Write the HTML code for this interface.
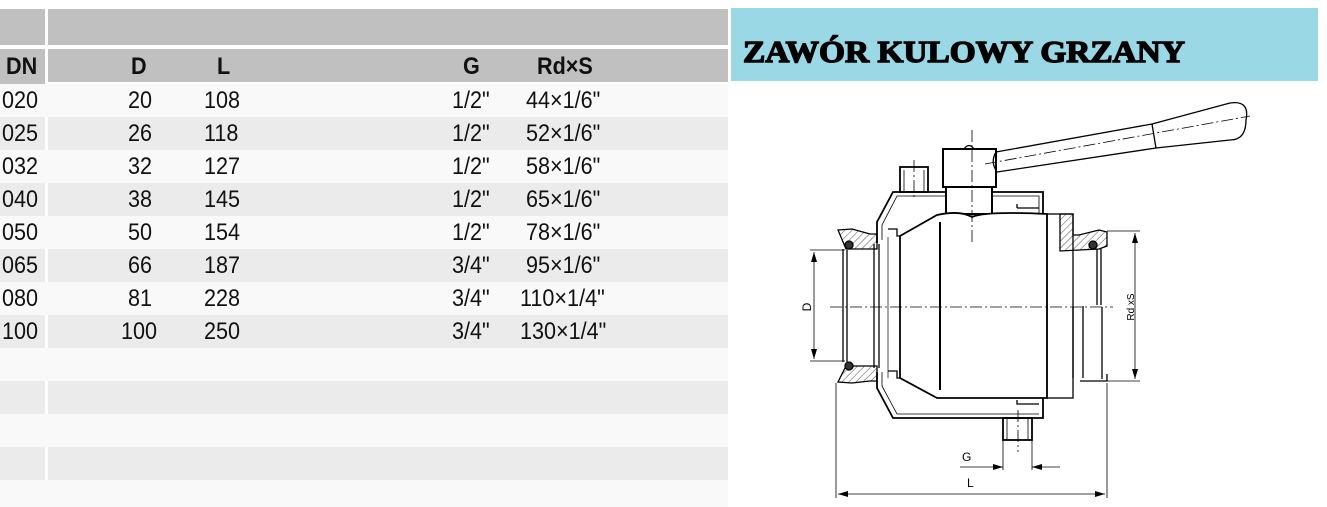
<!DOCTYPE html>
<html><head><meta charset="utf-8"><style>
body{margin:0;width:1327px;height:507px;background:#fff;overflow:hidden;position:relative;font-family:"Liberation Sans",sans-serif}
.r{position:absolute;left:0;width:728px;height:33px}
.l{background:#f9f9f9}.g{background:#ebebeb}
.sep{position:absolute;left:45px;width:3px;background:#fff}
.t{position:absolute;font-size:24px;color:#111;line-height:24px;transform:scaleX(0.9);transform-origin:left}
.h{font-weight:bold}
</style></head><body>
<div style="position:absolute;left:0;top:9px;width:45px;height:36px;background:#c0c0c0"></div>
<div style="position:absolute;left:48px;top:9px;width:680px;height:36px;background:#c0c0c0"></div>
<div style="position:absolute;left:0;top:49px;width:45px;height:35px;background:#c0c0c0"></div>
<div style="position:absolute;left:48px;top:49px;width:680px;height:33px;background:#c0c0c0"></div>
<div class="r l" style="top:84px"></div>
<div class="r g" style="top:117px"></div>
<div class="r l" style="top:150px"></div>
<div class="r g" style="top:183px"></div>
<div class="r l" style="top:216px"></div>
<div class="r g" style="top:249px"></div>
<div class="r l" style="top:282px"></div>
<div class="r g" style="top:315px"></div>
<div class="r l" style="top:348px"></div>
<div class="r g" style="top:381px"></div>
<div class="r l" style="top:414px"></div>
<div class="r g" style="top:447px"></div>
<div class="r l" style="top:480px;height:27px"></div>
<div class="sep" style="top:117px;height:33px"></div>
<div class="sep" style="top:183px;height:33px"></div>
<div class="sep" style="top:249px;height:33px"></div>
<div class="sep" style="top:315px;height:33px"></div>
<div class="sep" style="top:381px;height:33px"></div>
<div class="sep" style="top:447px;height:33px"></div>

<div class="t h" style="left:6px;top:55px">DN</div>
<div class="t h" style="left:131px;top:55px">D</div>
<div class="t h" style="left:217px;top:55px">L</div>
<div class="t h" style="left:463px;top:55px">G</div>
<div class="t h" style="left:537px;top:55px">Rd×S</div>

<div class="t" style="left:2px;top:89px">020</div><div class="t" style="left:128px;top:89px">20</div><div class="t" style="left:204px;top:89px">108</div><div class="t" style="left:452px;top:89px">1/2"</div><div class="t" style="left:526px;top:89px">44×1/6"</div>
<div class="t" style="left:2px;top:122px">025</div><div class="t" style="left:128px;top:122px">26</div><div class="t" style="left:204px;top:122px">118</div><div class="t" style="left:452px;top:122px">1/2"</div><div class="t" style="left:526px;top:122px">52×1/6"</div>
<div class="t" style="left:2px;top:155px">032</div><div class="t" style="left:128px;top:155px">32</div><div class="t" style="left:204px;top:155px">127</div><div class="t" style="left:452px;top:155px">1/2"</div><div class="t" style="left:526px;top:155px">58×1/6"</div>
<div class="t" style="left:2px;top:188px">040</div><div class="t" style="left:128px;top:188px">38</div><div class="t" style="left:204px;top:188px">145</div><div class="t" style="left:452px;top:188px">1/2"</div><div class="t" style="left:526px;top:188px">65×1/6"</div>
<div class="t" style="left:2px;top:221px">050</div><div class="t" style="left:128px;top:221px">50</div><div class="t" style="left:204px;top:221px">154</div><div class="t" style="left:452px;top:221px">1/2"</div><div class="t" style="left:526px;top:221px">78×1/6"</div>
<div class="t" style="left:2px;top:254px">065</div><div class="t" style="left:128px;top:254px">66</div><div class="t" style="left:204px;top:254px">187</div><div class="t" style="left:452px;top:254px">3/4"</div><div class="t" style="left:526px;top:254px">95×1/6"</div>
<div class="t" style="left:2px;top:287px">080</div><div class="t" style="left:128px;top:287px">81</div><div class="t" style="left:204px;top:287px">228</div><div class="t" style="left:452px;top:287px">3/4"</div><div class="t" style="left:520px;top:287px">110×1/4"</div>
<div class="t" style="left:2px;top:320px">100</div><div class="t" style="left:121px;top:320px">100</div><div class="t" style="left:204px;top:320px">250</div><div class="t" style="left:452px;top:320px">3/4"</div><div class="t" style="left:520px;top:320px">130×1/4"</div>

<div style="position:absolute;left:731px;top:8px;width:587px;height:73px;background:#9bd8e6"></div>
<svg width="1327" height="507" style="position:absolute;left:0;top:0">
<defs>
<pattern id="hp" width="5" height="5" patternUnits="userSpaceOnUse" patternTransform="rotate(45)"><line x1="0" y1="0" x2="0" y2="5" stroke="#000" stroke-width="0.7"/></pattern>
<marker id="a" markerWidth="10" markerHeight="6" refX="10" refY="3" orient="auto-start-reverse" markerUnits="userSpaceOnUse"><path d="M0,0L10,3L0,6z" fill="#000"/></marker>
</defs>
<text x="743" y="62" font-family="Liberation Serif" font-weight="bold" font-size="31" stroke="#000" stroke-width="1.4" textLength="442" lengthAdjust="spacingAndGlyphs">ZAWÓR KULOWY GRZANY</text>
<g fill="none" stroke="#000" stroke-width="1.3">
<rect x="943" y="149" width="53" height="38" stroke-width="2" fill="#fff"/>
<path d="M964,149 Q969,142 974,149"/>
<path d="M996,152 L1152,124 L1230,103 Q1250,100 1246,120 Q1246,140 1230,140 L1156,148 L997,172"/>
<line x1="1152" y1="124" x2="1156" y2="148"/>
<path d="M996,152 Q990,162 997,172"/>
<rect x="946" y="187" width="46" height="27" stroke-width="2"/>
<rect x="900" y="167" width="28" height="25" stroke-width="1.8"/>
<line x1="904" y1="170" x2="904" y2="192" stroke-width="0.8"/><line x1="924" y1="170" x2="924" y2="192" stroke-width="0.8"/>
<path d="M877,243 L877,222 L893,192 L946,192 M992,192 L1043,192 L1043,214" stroke-width="1.8"/>
<path d="M882,240 L882,225 L897,196 L946,196 M992,196 L1039,196 L1039,214" stroke-width="0.8"/>
<path d="M877,372 L877,388 L893,418 L1043,418 L1043,398" stroke-width="1.8"/>
<path d="M882,372 L882,386 L897,414 L1039,414" stroke-width="0.8"/>
<path d="M1017,208 L1039,208 M1017,204 L1017,208"/>
<path d="M1017,400 L1017,404 L1039,404"/>
<rect x="1003" y="418" width="29" height="22" stroke-width="1.8"/>
<line x1="1007" y1="418" x2="1007" y2="440" stroke-width="0.8"/><line x1="1028" y1="418" x2="1028" y2="440" stroke-width="0.8"/>
<path d="M900,236 L937,215 Q960,210 972,217 Q985,211 1047,214 L1047,398 L937,398 L900,378 Z" stroke-width="1.8" fill="#fff"/>
<line x1="940" y1="222" x2="940" y2="390" stroke-width="2"/>
<line x1="888" y1="237" x2="888" y2="378" stroke-width="0.7"/>
<path d="M900,236 L897,236 L897,229 L888,229 M900,378 L897,378 L897,371 L888,371" stroke-width="1.3"/>
<path d="M838,230 L852,229 L870,234 L877,234 L877,249 L846,249 Z" fill="url(#hp)"/>
<path d="M846,366 L877,366 L877,381 L870,381 L852,383 L838,382 Z" fill="url(#hp)"/>
<circle cx="849" cy="245" r="4" fill="#333"/><circle cx="849" cy="366" r="4" fill="#333"/>
<line x1="843" y1="249" x2="843" y2="362"/><line x1="847" y1="250" x2="847" y2="362"/>
<line x1="874" y1="244" x2="874" y2="368"/><line x1="879" y1="244" x2="879" y2="368"/>
<rect x="1047" y="214" width="26" height="184" stroke-width="1.3"/>
<path d="M1060,214 L1073,214 L1073,235 L1079,235 L1099,230 L1107,232 L1107,246 L1099,249 L1060,251 Z" fill="url(#hp)"/>
<circle cx="1093" cy="245" r="4" fill="#333"/>
<path d="M1097,249 L1097,305 M1101,249 L1101,305"/>
<path d="M1073,307 L1073,378 M1083,306 L1083,378 M1102,307 L1102,379 M1080,381 L1107,381 L1107,374"/>
</g>
<g stroke="#000" stroke-width="0.8" stroke-dasharray="12,3,2,3" fill="none">
<line x1="830" y1="307" x2="1113" y2="307"/>
<line x1="972" y1="130" x2="972" y2="245"/>
<line x1="914" y1="160" x2="914" y2="200"/>
<line x1="1018" y1="410" x2="1018" y2="452"/>
<line x1="985" y1="164" x2="1250" y2="116"/>
</g>
<g stroke="#000" stroke-width="0.8" fill="none">
<line x1="810" y1="250" x2="845" y2="250"/><line x1="810" y1="361" x2="845" y2="361"/>
<line x1="814" y1="252" x2="814" y2="359" marker-start="url(#a)" marker-end="url(#a)"/>
<line x1="1107" y1="231" x2="1140" y2="231"/><line x1="1107" y1="381" x2="1140" y2="381"/>
<line x1="1135" y1="233" x2="1135" y2="379" marker-start="url(#a)" marker-end="url(#a)"/>
<line x1="1003" y1="440" x2="1003" y2="470"/><line x1="1032" y1="440" x2="1032" y2="470"/>
<line x1="960" y1="467" x2="1003" y2="467" marker-end="url(#a)"/>
<line x1="1060" y1="467" x2="1032" y2="467" marker-end="url(#a)"/>
<line x1="836" y1="383" x2="836" y2="498"/><line x1="1107" y1="383" x2="1107" y2="498"/>
<line x1="838" y1="494" x2="1105" y2="494" marker-start="url(#a)" marker-end="url(#a)"/>
</g>
<g font-family="Liberation Sans" font-size="12" fill="#000">
<text x="807" y="311" transform="rotate(-90 807 307)" text-anchor="middle">D</text>
<text x="1131" y="310" transform="rotate(-90 1131 307)" text-anchor="middle" font-size="10">Rd xS</text>
<text x="962" y="461">G</text>
<text x="967" y="487">L</text>
</g>
</svg>
</body></html>
